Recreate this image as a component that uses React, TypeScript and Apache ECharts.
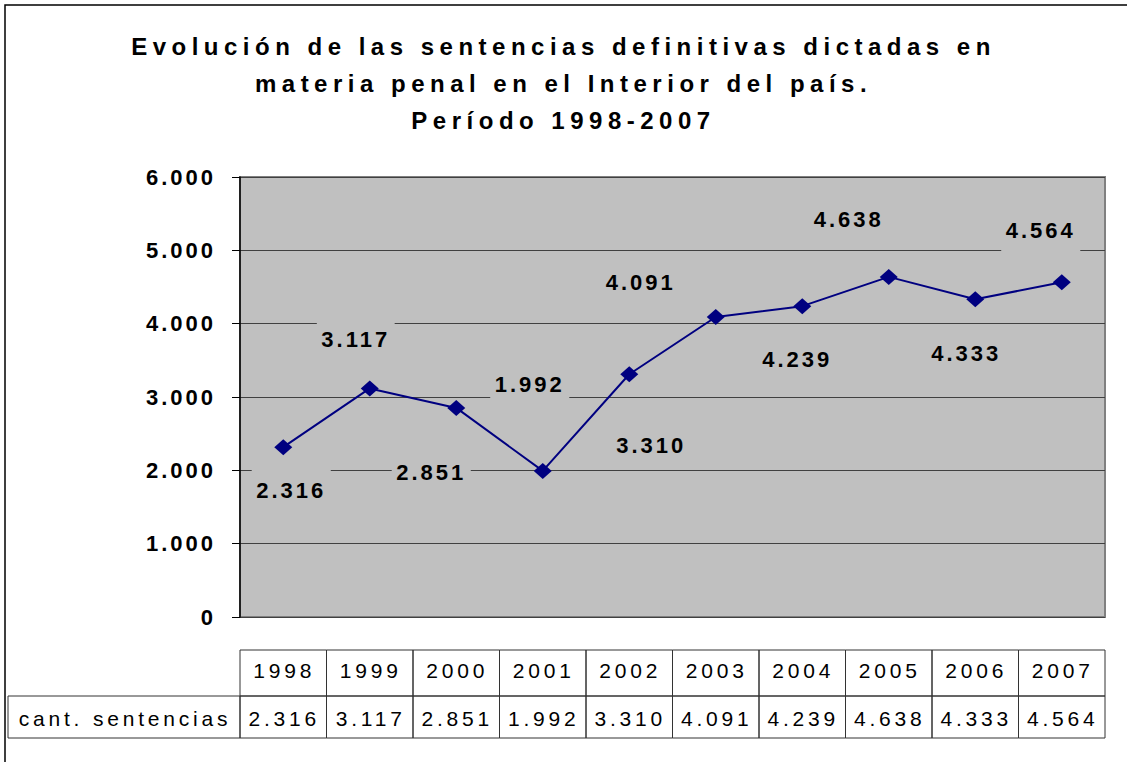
import React, { useEffect, useRef } from "react";
import * as echarts from "echarts";

const titleLines = [
  "Evolución de las sentencias definitivas dictadas en",
  "materia penal en el Interior del país.",
  "Período 1998-2007",
];
const years = ["1998", "1999", "2000", "2001", "2002", "2003", "2004", "2005", "2006", "2007"];
const sentencias = [2316, 3117, 2851, 1992, 3310, 4091, 4239, 4638, 4333, 4564];
const seriesName = "cant. sentencias";
const yMin = 0;
const yMax = 6000;
const yStep = 1000;

// label placement offsets (layout only)
const labelOffsets: [number, number][] = [
  [8, 43], [-14, -49], [-25, 65], [-13, -86], [22, 71],
  [-75, -34], [-5, 53], [-40, -57], [-9, 54], [-21, -52],
];

const fmt = (v: number) => {
  if (v < 1000) return String(v);
  const th = Math.floor(v / 1000);
  const rest = String(v % 1000).padStart(3, "0");
  return `${th}.${rest}`;
};

const FONT = "'Liberation Sans', Arial, sans-serif";
const W = 1127;
const H = 762;
const GL = 240;
const GR = 1105;
const GT = 177;
const GB = 617;

export default function App() {
  const ref = useRef<HTMLDivElement>(null);
  useEffect(() => {
    document.body.style.margin = "0";
    if (!ref.current) return;
    const chart = echarts.init(ref.current, undefined, { renderer: "svg" });
    const cw = (GR - GL) / years.length;
    const r1t = 650, r1b = 696, r2b = 738;
    const tableEls: any[] = [];
    const stroke = { stroke: "#333", lineWidth: 1, fill: "transparent" };
    years.forEach((y, i) => {
      const x = GL + i * cw;
      tableEls.push({ type: "rect", shape: { x, y: r1t, width: cw, height: r1b - r1t }, style: stroke });
      tableEls.push({ type: "rect", shape: { x, y: r1b, width: cw, height: r2b - r1b }, style: stroke });
      tableEls.push({
        type: "text", x: x + cw / 2 + 1, y: 670,
        style: { text: y, font: `21px ${FONT}`, fill: "#000", align: "center", verticalAlign: "middle" },
      });
      tableEls.push({
        type: "text", x: x + cw / 2 + 1, y: (r1b + r2b) / 2 + 1,
        style: { text: fmt(sentencias[i]), font: `21px ${FONT}`, fill: "#000", align: "center", verticalAlign: "middle" },
      });
    });
    tableEls.push({ type: "rect", shape: { x: 8, y: r1b, width: GL - 8, height: r2b - r1b }, style: stroke });
    tableEls.push({
      type: "text", x: (8 + GL) / 2 + 1, y: (r1b + r2b) / 2 + 1,
      style: { text: seriesName, font: `21px ${FONT}`, fill: "#000", align: "center", verticalAlign: "middle" },
    });
    tableEls.push({
      type: "rect", shape: { x: 5, y: 5, width: 1300, height: 900 },
      style: { stroke: "#000", lineWidth: 1.5, fill: "transparent" }, silent: true,
    });

    chart.setOption({
      animation: false,
      backgroundColor: "#fff",
      textStyle: { fontFamily: FONT },
      title: {
        text: titleLines.join("\n"),
        left: "center",
        top: 23,
        textStyle: { fontSize: 24, fontWeight: "bold", lineHeight: 37, color: "#000", fontFamily: FONT },
      },
      grid: {
        left: GL, right: W - GR, top: GT, bottom: H - GB,
        show: true, backgroundColor: "#C0C0C0", borderColor: "#808080", borderWidth: 2,
      },
      xAxis: {
        type: "category",
        data: years,
        boundaryGap: true,
        axisLine: { show: false },
        axisTick: { show: false },
        axisLabel: { show: false },
      },
      yAxis: {
        type: "value",
        min: yMin, max: yMax, interval: yStep,
        axisLine: { show: true, lineStyle: { color: "#000", width: 1.5 } },
        axisTick: { show: true, length: 8, lineStyle: { color: "#000" } },
        axisLabel: {
          formatter: (v: number) => fmt(v), fontSize: 22, fontWeight: "bold", color: "#000", margin: 24, fontFamily: FONT,
        },
        splitLine: { show: true, lineStyle: { color: "#404040", width: 1 } },
      },
      series: [
        {
          name: seriesName,
          type: "line",
          data: sentencias.map((v, i) => ({ value: v, label: { offset: labelOffsets[i] } })),
          lineStyle: { color: "#000080", width: 2 },
          itemStyle: { color: "#000080" },
          symbol: "diamond",
          symbolSize: [18, 16],
          label: {
            show: true,
            position: "inside",
            formatter: (p: any) => fmt(p.value),
            fontSize: 22,
            fontWeight: "bold",
            color: "#000",
            fontFamily: FONT,
            backgroundColor: "#C0C0C0",
            padding: [11, 12, 15, 12],
          },
        },
      ],
      graphic: tableEls,
    });

    // letter spacing per text size (SVG texts are real text nodes)
    const texts = ref.current.querySelectorAll("svg text");
    texts.forEach((t: any) => {
      const fs = parseFloat(window.getComputedStyle(t).fontSize);
      let ls = 3;
      if (fs >= 24) ls = 5.5;
      else if (fs <= 21) ls = 3.8;
      t.style.letterSpacing = `${ls}px`;
    });
    return () => chart.dispose();
  }, []);
  return <div ref={ref} style={{ width: W, height: H }} />;
}
